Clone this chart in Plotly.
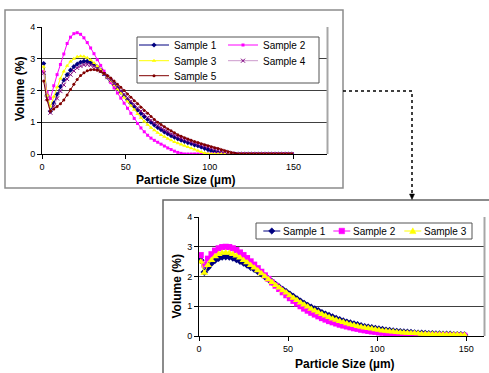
import plotly.graph_objects as go

W, H = 489, 373
FONT = "Liberation Sans, Arial, sans-serif"

# ---------------- data ----------------
size_um = [1, 3, 5, 7, 9, 11, 13, 15, 17, 19, 21, 23, 25, 27, 29, 31, 33, 35, 37, 39,
           41, 43, 45, 47, 49, 51, 53, 55, 57, 59, 61, 63, 65, 67, 69, 71, 73, 75, 77, 79,
           81, 83, 85, 87, 89, 91, 93, 95, 97, 99, 101, 103, 105, 107, 109, 111, 113, 115, 117, 119,
           121, 123, 125, 127, 129, 131, 133, 135, 137, 139, 141, 143, 145, 147, 149]

# top chart (5 samples)
top_s1 = [2.85, 1.85, 1.35, 1.6, 1.88, 2.12, 2.33, 2.5, 2.64, 2.75, 2.83, 2.89, 2.92, 2.92, 2.88, 2.82, 2.74, 2.64, 2.53, 2.42,
          2.31, 2.19, 2.07, 1.95, 1.83, 1.71, 1.6, 1.49, 1.38, 1.28, 1.18, 1.09, 1.0, 0.92, 0.84, 0.77, 0.7, 0.64, 0.58, 0.53,
          0.48, 0.44, 0.4, 0.36, 0.33, 0.29, 0.26, 0.22, 0.18, 0.14, 0.1, 0.07, 0.04, 0.02, 0, 0, 0, 0, 0, 0,
          0, 0, 0, 0, 0, 0, 0, 0, 0, 0, 0, 0, 0, 0, 0]
top_s2 = [2.6, 1.95, 1.75, 2.15, 2.5, 2.82, 3.15, 3.48, 3.68, 3.79, 3.82, 3.77, 3.66, 3.51, 3.34, 3.16, 2.97, 2.79, 2.61, 2.43,
          2.25, 2.08, 1.92, 1.76, 1.6, 1.44, 1.28, 1.12, 0.96, 0.82, 0.7, 0.59, 0.5, 0.43, 0.37, 0.31, 0.25, 0.19, 0.14, 0.09,
          0.05, 0.02, 0, 0, 0, 0, 0, 0, 0, 0, 0, 0, 0, 0, 0, 0, 0, 0, 0, 0,
          0, 0, 0, 0, 0, 0, 0, 0, 0, 0, 0, 0, 0, 0, 0]
top_s3 = [2.75, 1.85, 1.5, 1.8, 2.1, 2.38, 2.6, 2.78, 2.91, 3.0, 3.06, 3.08, 3.07, 3.03, 2.96, 2.87, 2.76, 2.65, 2.53, 2.42,
          2.3, 2.17, 2.04, 1.91, 1.78, 1.65, 1.52, 1.39, 1.26, 1.14, 1.02, 0.92, 0.83, 0.75, 0.67, 0.6, 0.54, 0.48, 0.43, 0.38,
          0.34, 0.3, 0.26, 0.22, 0.18, 0.14, 0.1, 0.06, 0.03, 0.01, 0, 0, 0, 0, 0, 0, 0, 0, 0, 0,
          0, 0, 0, 0, 0, 0, 0, 0, 0, 0, 0, 0, 0, 0, 0]
top_s4 = [2.55, 1.75, 1.3, 1.5, 1.75, 1.98, 2.18, 2.36, 2.5, 2.62, 2.71, 2.77, 2.81, 2.82, 2.8, 2.76, 2.69, 2.61, 2.52, 2.42,
          2.32, 2.21, 2.1, 1.99, 1.88, 1.77, 1.66, 1.56, 1.45, 1.35, 1.25, 1.15, 1.06, 0.98, 0.9, 0.83, 0.76, 0.7, 0.64, 0.59,
          0.54, 0.5, 0.46, 0.42, 0.38, 0.35, 0.31, 0.28, 0.25, 0.22, 0.19, 0.16, 0.13, 0.1, 0.07, 0.04, 0.02, 0, 0, 0,
          0, 0, 0, 0, 0, 0, 0, 0, 0, 0, 0, 0, 0, 0, 0]
top_s5 = [2.3, 1.7, 1.35, 1.42, 1.5, 1.58, 1.7, 1.86, 2.03, 2.2, 2.35, 2.47, 2.56, 2.62, 2.65, 2.66, 2.64, 2.6, 2.54, 2.47,
          2.39, 2.3, 2.2, 2.1, 2.0, 1.89, 1.79, 1.68, 1.58, 1.47, 1.37, 1.28, 1.18, 1.09, 1.0, 0.93, 0.86, 0.79, 0.73, 0.67,
          0.61, 0.56, 0.51, 0.47, 0.43, 0.39, 0.36, 0.32, 0.29, 0.26, 0.23, 0.2, 0.17, 0.13, 0.1, 0.07, 0.04, 0.02, 0, 0,
          0, 0, 0, 0, 0, 0, 0, 0, 0, 0, 0, 0, 0, 0, 0]

# bottom chart (3 samples)
bot_s1 = [2.55, 2.15, 2.3, 2.45, 2.55, 2.62, 2.66, 2.67, 2.66, 2.63, 2.58, 2.52, 2.46, 2.39, 2.32, 2.25, 2.17, 2.09, 2.0, 1.91,
          1.82, 1.73, 1.64, 1.56, 1.48, 1.4, 1.32, 1.24, 1.16, 1.09, 1.02, 0.96, 0.9, 0.84, 0.78, 0.73, 0.68, 0.63, 0.58, 0.54,
          0.5, 0.46, 0.43, 0.4, 0.37, 0.34, 0.31, 0.29, 0.27, 0.25, 0.23, 0.21, 0.19, 0.18, 0.16, 0.15, 0.14, 0.13, 0.12, 0.11,
          0.1, 0.09, 0.09, 0.08, 0.07, 0.07, 0.06, 0.06, 0.05, 0.05, 0.05, 0.04, 0.04, 0.04, 0.03]
bot_s2 = [2.72, 2.4, 2.6, 2.75, 2.87, 2.95, 2.99, 3.0, 2.99, 2.95, 2.89, 2.81, 2.72, 2.62, 2.51, 2.4, 2.28, 2.16, 2.04, 1.92,
          1.8, 1.69, 1.58, 1.47, 1.37, 1.27, 1.18, 1.09, 1.0, 0.92, 0.85, 0.78, 0.72, 0.66, 0.6, 0.55, 0.5, 0.46, 0.42, 0.38,
          0.35, 0.32, 0.29, 0.26, 0.24, 0.21, 0.19, 0.17, 0.15, 0.14, 0.12, 0.11, 0.1, 0.09, 0.08, 0.07, 0.06, 0.06, 0.05, 0.05,
          0.04, 0.04, 0.03, 0.03, 0.03, 0.02, 0.02, 0.02, 0.02, 0.02, 0.01, 0.01, 0.01, 0.01, 0.01]
bot_s3 = [2.5, 2.12, 2.38, 2.55, 2.67, 2.75, 2.79, 2.8, 2.79, 2.75, 2.7, 2.63, 2.55, 2.47, 2.38, 2.29, 2.2, 2.1, 2.0, 1.9,
          1.81, 1.71, 1.62, 1.53, 1.45, 1.36, 1.28, 1.2, 1.12, 1.05, 0.98, 0.91, 0.85, 0.79, 0.73, 0.68, 0.63, 0.58, 0.54, 0.5,
          0.46, 0.42, 0.39, 0.36, 0.33, 0.3, 0.28, 0.26, 0.24, 0.22, 0.2, 0.18, 0.17, 0.15, 0.14, 0.13, 0.12, 0.11, 0.1, 0.09,
          0.09, 0.08, 0.07, 0.07, 0.06, 0.06, 0.05, 0.05, 0.05, 0.04, 0.04, 0.04, 0.04, 0.03, 0.03]

x_ticks = [0, 50, 100, 150]
y_ticks = [0, 1, 2, 3, 4]


def fx(p):
    return p / W


def fy(p):
    return 1 - p / H


def pth(points, close=True):
    s = "M " + " L ".join(f"{fx(a)},{fy(b)}" for a, b in points)
    return s + (" Z" if close else "")


fig = go.Figure()

# (name, values, line colour, marker, legend id, legend text-left px, legend centre-y px)
top_specs = [
    ("Sample 1", top_s1, "#000080", dict(symbol="diamond", size=4, color="#000080"), "legend", 174, 45),
    ("Sample 2", top_s2, "#FF00FF", dict(symbol="square", size=3, color="#FF00FF"), "legend2", 263, 45),
    ("Sample 3", top_s3, "#FFFF00", dict(symbol="triangle-up", size=4, color="#FFFF00"), "legend3", 174, 60.7),
    ("Sample 4", top_s4, "#CC99CC", dict(symbol="x-thin", size=4, color="#800080",
                                         line=dict(color="#800080", width=1)), "legend4", 263, 60.7),
    ("Sample 5", top_s5, "#800000", dict(symbol="circle", size=3, color="#800000"), "legend5", 174, 75.7),
]
# bottom: (name, values, colour, marker, legend text-left px, marker kind)
bot_specs = [
    ("Sample 1", bot_s1, "#000080", dict(symbol="diamond", size=6, color="#000080"), 282.3, "diamond"),
    ("Sample 2", bot_s2, "#FF00FF", dict(symbol="square", size=6, color="#FF00FF"), 352.3, "square"),
    ("Sample 3", bot_s3, "#FFFF00", dict(symbol="triangle-up", size=7, color="#FFFF00"), 423.3, "triangle"),
]
BOT_LEG_Y = 231

leg_common = dict(orientation="v", xanchor="left", yanchor="middle", bgcolor="rgba(0,0,0,0)",
                  borderwidth=0, font=dict(family=FONT, size=10, color="black"), itemwidth=30)
legends = {}
for name, ys, col, mk, lg, tx, ty in top_specs:
    fig.add_trace(go.Scatter(x=size_um, y=ys, name=name, mode="lines+markers",
                             line=dict(color=col, width=1), marker=mk,
                             xaxis="x", yaxis="y", legend=lg))
    legends[lg] = dict(x=fx(tx - 40), y=fy(ty), **leg_common)
for name, ys, col, mk, tx, kind in bot_specs:
    fig.add_trace(go.Scatter(x=size_um, y=ys, name=name, mode="lines+markers",
                             line=dict(color=col, width=1), marker=mk,
                             xaxis="x2", yaxis="y2", showlegend=False))

axis_common = dict(showline=True, linecolor="black", linewidth=1, ticks="outside",
                   ticklen=4, tickcolor="black", zeroline=False, fixedrange=True, automargin=False,
                   tickfont=dict(family=FONT, size=9, color="black"))

fig.update_layout(
    width=W, height=H, margin=dict(l=0, r=0, t=0, b=0, autoexpand=False),
    paper_bgcolor="white", plot_bgcolor="white",
    font=dict(family=FONT, color="black"),
    showlegend=True,
    xaxis=dict(domain=[fx(42), fx(327)], range=[0, 170], tickvals=x_ticks, showgrid=False,
               anchor="y", **axis_common),
    yaxis=dict(domain=[fy(154), fy(27)], range=[0, 4], tickvals=y_ticks, showgrid=True,
               gridcolor="#404040", gridwidth=1, anchor="x", **axis_common),
    xaxis2=dict(domain=[fx(199), fx(484)], range=[0, 160], tickvals=x_ticks, showgrid=False,
                anchor="y2", **axis_common),
    yaxis2=dict(domain=[fy(336), fy(217)], range=[0, 4], tickvals=y_ticks, showgrid=True,
                gridcolor="#404040", gridwidth=1, anchor="x2", **axis_common),
    **legends,
)

title_font = dict(family=FONT, size=12, color="black", weight="bold")
annots = [
    dict(text="Particle Size (µm)", x=fx(185.5), y=fy(180), textangle=0),
    dict(text="Volume (%)", x=fx(20), y=fy(89), textangle=-90),
    dict(text="Particle Size (µm)", x=fx(344.5), y=fy(364), textangle=0),
    dict(text="Volume (%)", x=fx(176), y=fy(286.5), textangle=-90),
]
for a in annots:
    fig.add_annotation(xref="paper", yref="paper", showarrow=False, xanchor="center",
                       yanchor="middle", font=title_font, **a)

shapes = [
    # chart frames
    dict(type="rect", x0=fx(5), x1=fx(343), y0=fy(188), y1=fy(10),
         line=dict(color="#8c8c8c", width=1.5)),
    dict(type="rect", x0=fx(163), x1=fx(500), y0=fy(390), y1=fy(200),
         line=dict(color="#666666", width=1.5)),
    # plot area right borders
    dict(type="line", x0=fx(327.5), x1=fx(327.5), y0=fy(154), y1=fy(27),
         line=dict(color="#a6a6a6", width=2)),
    dict(type="line", x0=fx(484.5), x1=fx(484.5), y0=fy(336), y1=fy(217),
         line=dict(color="#a6a6a6", width=2)),
    # legend boxes
    dict(type="rect", x0=fx(137), x1=fx(319), y0=fy(83), y1=fy(37),
         line=dict(color="#555555", width=1), fillcolor="white"),
    dict(type="rect", x0=fx(256), x1=fx(472), y0=fy(239), y1=fy(223),
         line=dict(color="#555555", width=1), fillcolor="white"),
    # dotted connector
    dict(type="path", path=pth([(343, 91), (412, 91), (412, 195)], close=False),
         line=dict(color="black", width=1.5, dash="dot")),
    dict(type="path", path=pth([(409.5, 194), (414.5, 194), (412, 199.5)]),
         line=dict(color="black", width=0.5), fillcolor="black"),
]

# manual legend for the lower chart (short line samples as in the original)
for name, ys, col, mk, tx, kind in bot_specs:
    cy = BOT_LEG_Y
    x0, x1 = tx - 19, tx - 2
    cx = (x0 + x1) / 2
    shapes.append(dict(type="line", x0=fx(x0), x1=fx(x1), y0=fy(cy), y1=fy(cy),
                       line=dict(color=col, width=1)))
    if kind == "diamond":
        mp = pth([(cx, cy - 3.2), (cx + 3.2, cy), (cx, cy + 3.2), (cx - 3.2, cy)])
    elif kind == "square":
        mp = pth([(cx - 2.8, cy - 2.8), (cx + 2.8, cy - 2.8), (cx + 2.8, cy + 2.8), (cx - 2.8, cy + 2.8)])
    else:
        mp = pth([(cx - 3.2, cy + 2.6), (cx + 3.2, cy + 2.6), (cx, cy - 3.2)])
    shapes.append(dict(type="path", path=mp, line=dict(color=col, width=0.5), fillcolor=col))
    fig.add_annotation(xref="paper", yref="paper", showarrow=False, xanchor="left",
                       yanchor="middle", x=fx(tx - 1), y=fy(cy), text=name,
                       font=dict(family=FONT, size=10, color="black"))

for s in shapes:
    fig.add_shape(xref="paper", yref="paper", layer="above", **s)

fig.write_html("out.html", config={"displayModeBar": False},
               post_script="document.body.style.margin='0';document.body.style.padding='0';"
                           "document.body.style.overflow='hidden';")
